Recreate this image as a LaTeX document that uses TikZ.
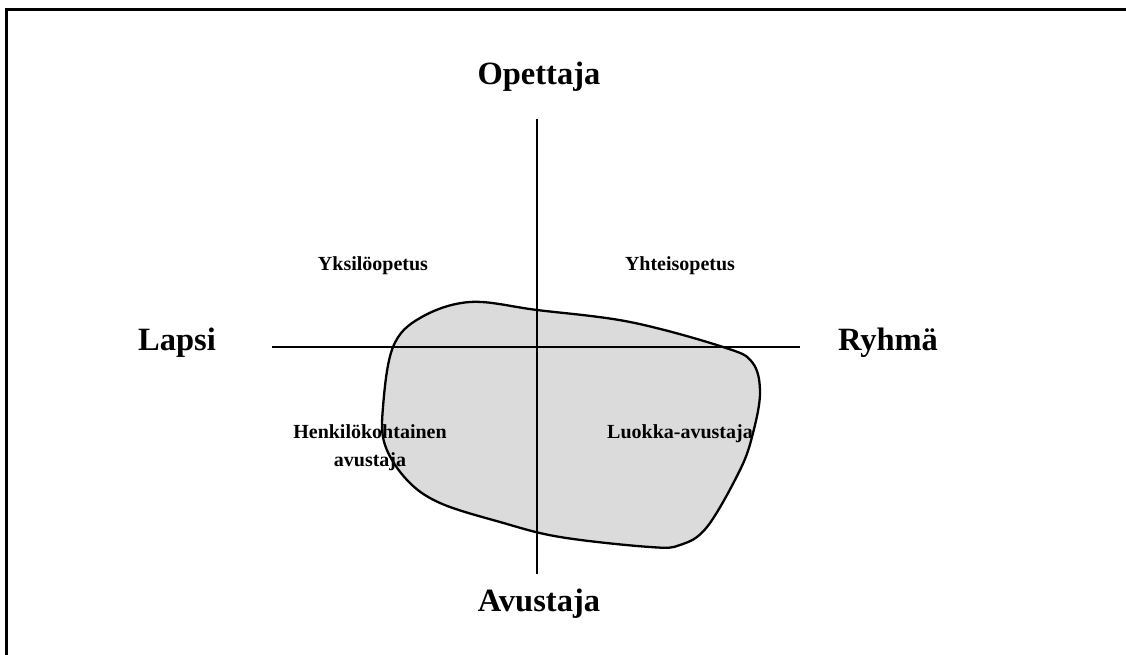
\documentclass[tikz,border=0pt]{standalone}
\usepackage{fontspec}
\setmainfont{Liberation Serif}
\begin{document}
\begin{tikzpicture}[x=1pt,y=-1pt,
  big/.style={font=\bfseries\fontsize{32.5}{36}\selectfont, inner sep=0pt},
  small/.style={font=\bfseries\fontsize{20}{28}\selectfont, inner sep=0pt, align=center},
  axis/.style={line width=2.8pt},
  blob/.style={line width=2.3pt, fill=black!14}]
\useasboundingbox (0,0) rectangle (1126,655);
% frame
\draw[line width=3pt] (6.5,660) -- (6.5,9.5) -- (1130,9.5);
% blob
\draw[blob] plot[smooth cycle, tension=0.6] coordinates {
 (470,302) (537,310) (630,322) (723,347) (752,362) (760,392) (753,433)
 (740,470) (707,527) (680,545) (650,547) (560,537) (500,522) (440,503)
 (407,480) (385,445) (383,407) (393,347) (420,318)};
% axes
\coordinate (hl) at (272,347);
\coordinate (hr) at (800,347);
\coordinate (vt) at (537,119);
\coordinate (vb) at (537,574);
\draw[axis] (hl) -- (hr);
\draw[axis] (vt) -- (vb);
% labels
\node[big] (op) at (539,77) {Opettaja};
\node[big] (la) at (177,343) {Lapsi};
\node[big] (ry) at (888,343) {Ryhmä};
\node[big] (av) at (539,604) {Avustaja};
\node[small] (yk) at (373,266) {Yksilöopetus};
\node[small] (yh) at (680,266) {Yhteisopetus};
\node[small] (he) at (370,448) {Henkilökohtainen\\avustaja};
\node[small] (lu) at (680,434) {Luokka-avustaja};
\end{tikzpicture}
\end{document}
